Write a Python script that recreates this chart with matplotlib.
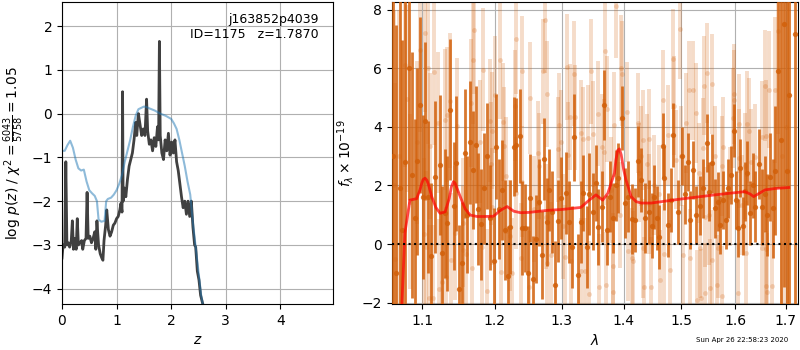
import numpy as np
import matplotlib.pyplot as plt
from matplotlib.ticker import NullLocator, FixedLocator, FixedFormatter

# p(z) panel
z_pz = [0.00, 0.02, 0.05, 0.07, 0.09, 0.11, 0.14, 0.17, 0.19, 0.21, 0.23, 0.26, 0.28, 0.30,
        0.33, 0.36, 0.38, 0.41, 0.44, 0.46, 0.48, 0.51, 0.54, 0.57, 0.60, 0.62, 0.64, 0.67,
        0.70, 0.73, 0.75, 0.77, 0.80, 0.82, 0.85, 0.88, 0.91, 0.94, 0.97, 1.00, 1.03, 1.06,
        1.08, 1.10, 1.11, 1.12, 1.14, 1.17, 1.20, 1.23, 1.26, 1.29, 1.32, 1.35, 1.37, 1.40,
        1.43, 1.46, 1.49, 1.52, 1.55, 1.57, 1.60, 1.63, 1.66, 1.69, 1.72, 1.75, 1.77, 1.785,
        1.80, 1.83, 1.86, 1.89, 1.92, 1.95, 1.98, 2.01, 2.04, 2.07, 2.10, 2.13, 2.16, 2.19,
        2.22, 2.25, 2.28, 2.31, 2.34, 2.37, 2.40, 2.43, 2.45, 2.48, 2.51, 2.54, 2.57, 2.58]
logp = [-3.3, -3.0, -3.05, -1.1, -3.0, -2.95, -3.05, -2.9, -2.45, -3.1, -2.85, -3.1, -2.4, -3.0,
        -2.95, -2.9, -3.1, -2.9, -2.85, -1.8, -2.85, -2.8, -2.95, -2.85, -2.7, -3.1, -2.45, -3.0,
        -3.2, -3.3, -3.35, -2.9, -2.55, -2.2, -2.65, -2.8, -2.7, -2.55, -2.5, -2.4, -2.35, -2.2,
        -2.05, -2.25, 0.5, -2.0, -1.7, -1.9, -1.5, -1.2, -1.05, -0.9, -0.6, -0.2, -0.5, 0.0,
        -0.25, -0.5, -0.35, -0.5, 0.33, -0.4, -0.7, -0.6, -0.85, -0.55, -0.75, -0.3, -0.6, 1.65,
        -0.5, -0.9, -1.05, -0.6, -0.85, -0.45, -0.95, -0.65, -0.9, -0.6, -1.1, -1.3, -1.6, -1.9,
        -2.15, -2.0, -2.3, -2.0, -2.35, -2.0, -2.6, -3.0, -3.05, -3.6, -3.8, -4.15, -4.3, -4.35]

z_smooth = [0.00, 0.05, 0.10, 0.15, 0.20, 0.25, 0.30, 0.35, 0.40, 0.45, 0.50, 0.55, 0.60, 0.64,
            0.67, 0.72, 0.78, 0.81, 0.84, 0.90, 0.95, 1.00, 1.05, 1.10, 1.15, 1.20, 1.25, 1.30,
            1.35, 1.40, 1.45, 1.50, 1.55, 1.60, 1.70, 1.80, 1.90, 2.00, 2.05, 2.10, 2.15, 2.20,
            2.25, 2.30, 2.35, 2.40, 2.45, 2.50, 2.55, 2.58]
logp_smooth = [-0.85, -0.85, -0.72, -0.62, -0.78, -1.05, -1.25, -1.3, -1.28, -1.55, -1.75, -1.82,
               -1.88, -2.0, -2.42, -2.47, -2.45, -2.0, -1.95, -1.92, -1.85, -1.75, -1.6, -1.4,
               -1.1, -0.85, -0.6, -0.3, -0.05, 0.1, 0.13, 0.16, 0.15, 0.12, 0.07, 0.0, -0.05,
               -0.12, -0.22, -0.35, -0.6, -0.9, -1.2, -1.55, -1.85, -2.5, -3.05, -3.6, -4.15, -4.35]

# spectrum panel: binned (dark) points
lam_bin = [1.0625, 1.0660, 1.0708, 1.0734, 1.0775, 1.0829, 1.0864, 1.0899, 1.0930, 1.0966,
           1.1004, 1.1040, 1.1076, 1.1120, 1.1173, 1.1233, 1.1264, 1.1300, 1.1332, 1.1377,
           1.1420, 1.1460, 1.1493, 1.1530, 1.1571, 1.1610, 1.1641, 1.1689, 1.1726, 1.1760,
           1.1796, 1.1845, 1.1883, 1.1930, 1.1993, 1.2022, 1.2060, 1.2104, 1.2153, 1.2193,
           1.2226, 1.2275, 1.2310, 1.2360, 1.2400, 1.2439, 1.2490, 1.2520, 1.2560, 1.2600,
           1.2651, 1.2692, 1.2727, 1.2780, 1.2804, 1.2850, 1.2898, 1.2935, 1.2985, 1.3064,
           1.3116, 1.3158, 1.3195, 1.3250, 1.3302, 1.3330, 1.3394, 1.3437, 1.3492, 1.3540,
           1.3573, 1.3638, 1.3676, 1.3730, 1.3770, 1.3824, 1.3870, 1.3913, 1.3970, 1.4030,
           1.4082, 1.4150, 1.4196, 1.4252, 1.4294, 1.4368, 1.4426, 1.4485, 1.4520, 1.4566,
           1.4613, 1.4671, 1.4701, 1.4759, 1.4810, 1.4861, 1.4951, 1.5011, 1.5060, 1.5120,
           1.5163, 1.5211, 1.5274, 1.5348, 1.5400, 1.5465, 1.5508, 1.5558, 1.5620, 1.5671,
           1.5714, 1.5779, 1.5823, 1.5870, 1.5925, 1.5971, 1.6010, 1.6054, 1.6099, 1.6146,
           1.6190, 1.6229, 1.6294, 1.6340, 1.6392, 1.6471, 1.6525, 1.6580, 1.6625, 1.6691,
           1.6745, 1.6792, 1.6846, 1.6914, 1.6963, 1.7020, 1.7078, 1.7190]
flux_bin = [3.0, -1.0, 1.9, 0.48, 2.8, 6.0, 2.36, 0.88, 2.82, 4.76,
            1.6, 4.19, 1.62, -0.41, 2.3, 2.7, -0.32, 1.05, 0.71, 4.59,
            1.3, 2.76, -1.55, -0.66, 3.1, 1.0, 3.48, 2.53, 3.39, 1.2,
            0.68, 1.91, 3.01, 0.9, -0.57, 3.33, 1.2, 1.85, 0.48, -1.1,
            0.59, 3.33, 3.39, 3.7, 0.54, 0.54, -0.98, 1.56, -1.21, 0.16,
            1.42, -0.38, 2.9, 0.76, 1.85, 1.1, -1.4, 0.8, 1.56, 1.74,
            0.76, -0.09, 3.64, -1.06, 0.76, 1.74, -0.09, 1.7, 1.11, 2.1,
            0.59, 1.28, 4.76, 0.48, 1.62, 0.88, 2.0, 2.25, 4.3, 1.4,
            1.62, 0.85, 0.82, 2.82, 2.19, 0.88, 1.09, 0.63, 1.6, 0.88,
            0.23, 3.36, 2.25, 0.65, 1.5, 3.73, 1.09, 3.01, 1.7, 2.8,
            0.82, 2.53, 0.99, 1.31, 1.9, 3.45, 1.79, 2.76, 1.22, 1.45,
            0.65, 1.51, 0.82, 1.9, 2.36, 3.87, 1.5, 0.54, 2.59, 0.62,
            1.8, 2.42, 1.05, 2.0, 1.28, 2.73, 1.28, 1.7, 0.99, 2.3,
            1.22, 2.5, 5.9, 3.56, 7.52, 2.5, 5.1, 7.18]
err_bin = [9.0, 8.5, 7.0, 6.5, 6.0, 4.5, 4.2, 3.4, 3.2, 3.0,
           2.8, 2.7, 2.6, 2.5, 2.6, 2.4, 2.3, 2.2, 2.3, 2.4,
           2.2, 2.3, 2.2, 2.1, 2.2, 2.0, 2.1, 2.0, 2.0, 1.9,
           1.9, 1.9, 1.8, 1.8, 1.8, 1.8, 1.7, 1.7, 1.7, 1.7,
           1.6, 1.7, 1.6, 1.6, 1.6, 1.5, 1.6, 1.5, 1.5, 1.5,
           1.5, 1.5, 1.4, 1.5, 1.4, 1.4, 1.5, 1.4, 1.4, 1.4,
           1.4, 1.4, 1.5, 1.4, 1.4, 1.3, 1.4, 1.4, 1.3, 1.3,
           1.3, 1.2, 1.2, 1.2, 1.2, 1.2, 1.2, 1.2, 1.1, 1.2,
           1.2, 1.2, 1.1, 1.2, 1.1, 1.2, 1.1, 1.1, 1.1, 1.1,
           1.1, 1.1, 1.1, 1.1, 1.1, 1.1, 1.1, 1.0, 1.0, 1.0,
           1.0, 1.0, 1.0, 1.0, 1.0, 1.0, 1.0, 1.0, 1.0, 1.0,
           1.0, 1.0, 1.0, 1.0, 1.0, 0.9, 1.0, 1.0, 1.0, 1.0,
           1.0, 1.1, 1.1, 1.1, 1.2, 1.2, 1.3, 1.3, 1.4, 1.5,
           1.7, 2.2, 4.0, 7.0, 9.0, 9.0, 10.0, 10.0]

# spectrum panel: unbinned (light) points
lam_raw = [1.0630, 1.0650, 1.0700, 1.0770, 1.0800, 1.0842, 1.0930, 1.0975, 1.1020, 1.1040,
           1.1045, 1.1076, 1.1085, 1.1107, 1.1142, 1.1152, 1.1210, 1.1219, 1.1264, 1.1309,
           1.1315, 1.1332, 1.1377, 1.1391, 1.1446, 1.1470, 1.1549, 1.1555, 1.1595, 1.1655,
           1.1679, 1.1693, 1.1703, 1.1782, 1.1821, 1.1831, 1.1892, 1.1925, 1.1945, 1.1954,
           1.1964, 1.2006, 1.2079, 1.2085, 1.2118, 1.2127, 1.2163, 1.2226, 1.2250, 1.2290,
           1.2300, 1.2310, 1.2374, 1.2389, 1.2395, 1.2498, 1.2513, 1.2580, 1.2639, 1.2654,
           1.2717, 1.2741, 1.2752, 1.2768, 1.2778, 1.2829, 1.2949, 1.2959, 1.2985, 1.3020,
           1.3052, 1.3090, 1.3095, 1.3126, 1.3142, 1.3195, 1.3211, 1.3302, 1.3308, 1.3339,
           1.3372, 1.3410, 1.3436, 1.3463, 1.3490, 1.3572, 1.3593, 1.3638, 1.3676, 1.3692,
           1.3714, 1.3730, 1.3786, 1.3824, 1.3829, 1.3842, 1.3880, 1.3938, 1.3954, 1.3970,
           1.4050, 1.4067, 1.4150, 1.4162, 1.4252, 1.4264, 1.4294, 1.4321, 1.4333, 1.4340,
           1.4391, 1.4426, 1.4438, 1.4467, 1.4525, 1.4600, 1.4626, 1.4671, 1.4701, 1.4759,
           1.4808, 1.4849, 1.4880, 1.4915, 1.4987, 1.5000, 1.5029, 1.5091, 1.5138, 1.5151,
           1.5211, 1.5274, 1.5280, 1.5322, 1.5335, 1.5366, 1.5404, 1.5422, 1.5428, 1.5433,
           1.5465, 1.5500, 1.5526, 1.5558, 1.5564, 1.5620, 1.5652, 1.5684, 1.5747, 1.5760,
           1.5779, 1.5906, 1.5952, 1.5971, 1.5983, 1.6054, 1.6068, 1.6075, 1.6131, 1.6196,
           1.6202, 1.6229, 1.6275, 1.6314, 1.6392, 1.6525, 1.6531, 1.6591, 1.6598, 1.6604,
           1.6610, 1.6625, 1.6671, 1.6725, 1.6780, 1.6846, 1.6920, 1.7000]
flux_raw = [2.0, -0.5, 3.0, 6.13, 4.97, 1.45, 3.47, 6.64, 0.34, 7.2,
            -0.09, 6.02, -1.86, 3.36, -1.86, 5.87, 4.15, -1.55, -1.29, 4.25,
            -1.12, 4.42, 4.9, -0.55, 0.37, 4.04, -0.21, 0.73, -0.34, 4.82,
            -0.83, 6.3, 7.33, 3.5, -0.09, 5.96, -1.6, 4.21, 2.74, 3.87,
            1.28, 5.1, 6.28, -0.95, 4.17, 3.36, 2.33, 0.28, -1.0, 4.73,
            7.01, 1.74, -0.49, 5.9, 2.13, -1.46, 4.99, 1.2, 3.1, 2.67,
            5.9, 7.64, 0.93, 5.13, -0.66, -0.38, 3.24, 4.05, 3.47, 0.6,
            -0.46, 6.05, 3.05, 4.34, -0.57, 5.82, 4.33, 3.81, -0.91, 3.58,
            -0.91, 3.62, -1.71, 5.9, 3.76, 4.45, -1.46, 3.33, 3.14, 6.59,
            -1.4, 4.61, 1.85, -0.75, -1.65, 4.08, 8.15, 0.99, 6.02, 5.82,
            4.51, -0.24, -0.47, -0.57, 4.13, 2.44, 3.01, -0.15, 3.56, -1.46,
            2.73, 3.58, 1.37, -1.46, 2.02, 1.7, -1.23, 4.93, -0.34, 3.73,
            -0.89, 6.32, 4.73, 2.88, 7.35, 3.01, -0.38, 4.13, 5.25, -0.49,
            5.25, 4.47, -1.92, 2.42, -0.15, -1.86, 3.28, 5.41, 0.93, -1.67,
            5.85, 1.0, -1.52, 5.47, -0.55, 3.01, -1.4, -0.15, 2.67, -1.78,
            3.33, 1.62, 4.3, 5.13, 4.93, -1.69, 4.11, 2.93, 1.34, 2.67,
            -0.32, 4.1, 3.87, 2.8, 2.99, 3.67, -0.15, 5.41, 3.7, -0.18,
            -1.44, -1.63, 5.27, -1.43, 5.27, 7.27, 3.0, 4.0]
err_raw = [6.0, 6.0, 5.0, 3.5, 3.2, 3.0, 2.8, 2.8, 2.6, 2.7,
           2.6, 2.6, 2.5, 2.5, 2.5, 2.5, 2.4, 2.4, 2.4, 2.4,
           2.4, 2.3, 2.3, 2.3, 2.3, 2.3, 2.2, 2.2, 2.2, 2.2,
           2.2, 2.2, 2.2, 2.1, 2.1, 2.1, 2.1, 2.1, 2.1, 2.0,
           2.0, 2.0, 2.0, 2.0, 2.0, 2.0, 2.0, 1.9, 1.9, 1.9,
           1.9, 1.9, 1.9, 1.9, 1.9, 1.9, 1.9, 1.8, 1.8, 1.8,
           1.8, 1.8, 1.8, 1.8, 1.8, 1.8, 1.8, 1.8, 1.8, 1.8,
           1.8, 1.8, 1.8, 1.8, 1.8, 1.8, 1.8, 1.8, 1.8, 1.8,
           1.8, 1.8, 1.8, 1.8, 1.8, 1.8, 1.8, 1.8, 1.8, 1.8,
           1.8, 1.8, 1.8, 1.8, 1.8, 1.8, 1.8, 1.8, 1.8, 1.8,
           1.7, 1.7, 1.7, 1.7, 1.7, 1.7, 1.7, 1.7, 1.7, 1.7,
           1.7, 1.7, 1.7, 1.7, 1.7, 1.7, 1.7, 1.7, 1.7, 1.7,
           1.7, 1.7, 1.7, 1.7, 1.7, 1.7, 1.7, 1.7, 1.7, 1.7,
           1.7, 1.7, 1.7, 1.7, 1.7, 1.7, 1.7, 1.7, 1.7, 1.7,
           1.7, 1.7, 1.7, 1.7, 1.7, 1.7, 1.7, 1.7, 1.7, 1.7,
           1.7, 1.7, 1.7, 1.7, 1.7, 1.7, 1.7, 1.7, 1.7, 1.8,
           1.8, 1.8, 1.8, 1.8, 1.8, 1.9, 1.9, 1.9, 1.9, 1.9,
           1.9, 2.0, 2.0, 2.2, 2.5, 3.5, 6.0, 8.0]

# best-fit model
lam_model = [1.0720, 1.0773, 1.0838, 1.0926, 1.0970, 1.0990, 1.1010, 1.1036, 1.1060, 1.1080,
             1.1125, 1.1180, 1.1237, 1.1305, 1.1360, 1.1390, 1.1418, 1.1440, 1.1460, 1.1511,
             1.1580, 1.1650, 1.1745, 1.1850, 1.1980, 1.2079, 1.2177, 1.2275, 1.2374, 1.2500,
             1.2780, 1.3000, 1.3300, 1.3435, 1.3544, 1.3653, 1.3737, 1.3847, 1.3870, 1.3900,
             1.3930, 1.3960, 1.4000, 1.4040, 1.4128, 1.4210, 1.4300, 1.4470, 1.5005, 1.5620,
             1.6190, 1.6300, 1.6360, 1.6457, 1.6588, 1.6800, 1.7063]
flux_model = [-3.0, 0.37, 1.50, 1.55, 1.85, 2.05, 2.2, 2.25, 2.18, 2.05,
              1.62, 1.25, 1.05, 1.10, 1.55, 1.95, 2.13, 2.08, 1.95, 1.62,
              1.20, 0.99, 0.94, 0.94, 0.95, 1.15, 1.28, 1.12, 1.07, 1.08,
              1.15, 1.18, 1.25, 1.50, 1.68, 1.50, 1.73, 2.42, 2.85, 3.2,
              3.25, 3.05, 2.55, 2.19, 1.62, 1.45, 1.40, 1.40, 1.54, 1.68,
              1.79, 1.70, 1.62, 1.72, 1.85, 1.90, 1.93]

g141 = '#d2600a'

fig = plt.figure(figsize=(8, 3.5), dpi=100)
ax1 = fig.add_axes([0.0775, 0.1314, 0.339, 0.8629])
ax2 = fig.add_axes([0.49, 0.1314, 0.5075, 0.8629])

ax1.plot(z_pz, logp, color='0.25', lw=2)
ax1.plot(z_smooth, logp_smooth, color='#1f77b4', alpha=0.5, lw=1.5)
ax1.set_xlim(0, 4.97)
ax1.set_ylim(-4.35, 2.55)
ax1.set_xticks([0, 1, 2, 3, 4])
ax1.grid()
ax1.set_xlabel('$z$')
ax1.set_ylabel(r'log $p(z)$ / $\chi^2=\frac{6043}{5758}=1.05$')
ax1.text(0.945, 0.965, 'j163852p4039\nID=1175   z=1.7870', transform=ax1.transAxes,
         ha='right', va='top', multialignment='right', fontsize=9, linespacing=1.25)

ax2.errorbar(lam_raw, flux_raw, yerr=err_raw, fmt='o', color=g141, alpha=0.22,
             ms=3.5, mew=0, elinewidth=2.8, zorder=2)
ax2.errorbar(lam_bin, flux_bin, yerr=err_bin, fmt='o', color=g141, alpha=0.85,
             ms=3.8, mew=0, elinewidth=2.0, zorder=3)
ax2.plot(lam_model, flux_model, color='r', alpha=0.7, lw=2, zorder=4)
ax2.axhline(0, color='k', ls=':', lw=1.5, zorder=5)
ax2.set_xscale('log')
ax2.set_xlim(1.0608, 1.7253)
ax2.set_ylim(-2.05, 8.27)
ticks = [1.1, 1.2, 1.3, 1.4, 1.5, 1.6, 1.7]
ax2.xaxis.set_major_locator(FixedLocator(ticks))
ax2.xaxis.set_major_formatter(FixedFormatter(['%.1f' % t for t in ticks]))
ax2.xaxis.set_minor_locator(NullLocator())
ax2.grid()
ax2.set_xlabel(r'$\lambda$')
ax2.set_ylabel(r'$f_\lambda\times10^{-19}$')

fig.text(0.928, 0.028, 'Sun Apr 26 22:58:23 2020', ha='center', va='center', fontsize=5)

plt.savefig('out.png', dpi=100)
